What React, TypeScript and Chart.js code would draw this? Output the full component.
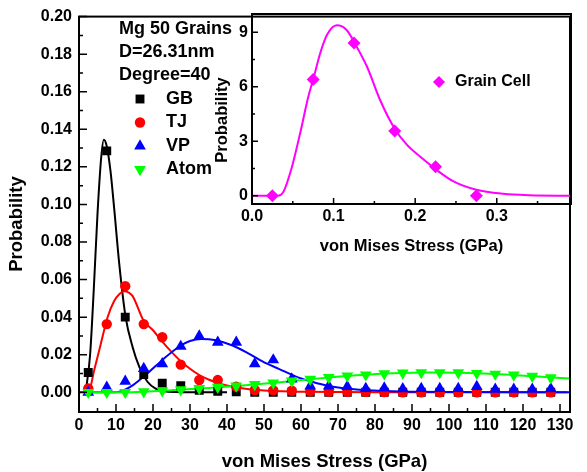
import React, { useEffect, useRef } from 'react';
import { Chart, registerables } from 'chart.js';
Chart.register(...registerables);

const FONT = '"Liberation Sans", Arial, sans-serif';

// ---- main chart data ----
const binX = [2.5, 7.5, 12.5, 17.5, 22.5, 27.5, 32.5, 37.5, 42.5, 47.5, 52.5, 57.5, 62.5, 67.5, 72.5, 77.5, 82.5, 87.5, 92.5, 97.5, 102.5, 107.5, 112.5, 117.5, 122.5, 127.5];
const gbY = [0.0105, 0.1285, 0.04, 0.0095, 0.0048, 0.0035, 0.001, 0.0005, 0.0003, 0, 0, 0, 0, 0, 0, 0, 0, 0, 0, 0, 0, 0, 0, 0, 0, 0];
const tjY = [0.002, 0.0363, 0.0565, 0.0363, 0.0293, 0.0147, 0.0065, 0.0065, 0.003, 0.0012, 0.001, 0.0008, 0.0005, 0.0004, 0.0003, 0.0002, 0.0001, 0, 0, 0, 0, 0, 0, 0, 0, 0];
const vpY = [0, 0.0026, 0.0058, 0.0126, 0.0152, 0.0244, 0.0299, 0.0266, 0.0266, 0.0152, 0.0172, 0.007, 0.0033, 0.0033, 0.003, 0.002, 0.0022, 0.0018, 0.002, 0.002, 0.002, 0.003, 0.0016, 0.0016, 0.0016, 0.0018];
const atomY = [0, 0, 0, 0.0003, 0.0008, 0.0014, 0.002, 0.0027, 0.0034, 0.0042, 0.005, 0.006, 0.007, 0.0079, 0.0087, 0.0093, 0.0099, 0.0103, 0.0105, 0.0105, 0.0104, 0.0101, 0.0097, 0.0092, 0.0086, 0.0078];

const gbFitX = [1.8, 3.0, 4.0, 5.0, 6.0, 6.7, 7.5, 8.5, 9.5, 10.9, 12.6, 14.5, 16.3, 18.5, 20.7, 23, 26, 30, 40];
const gbFitY = [0, 0.02, 0.055, 0.095, 0.125, 0.1345, 0.131, 0.118, 0.098, 0.068, 0.04, 0.024, 0.0135, 0.0056, 0.002, 0.0006, 0.0001, 0, 0];
const tjFitX = [2.0, 2.8, 4.1, 5.9, 7.7, 9.5, 11, 12.2, 13.5, 14.5, 17.5, 20, 22.5, 25, 27.5, 30, 32.5, 35, 37.5, 40, 45, 50, 55, 60, 70, 80, 132];
const tjFitY = [0, 0.001, 0.0117, 0.0258, 0.0398, 0.0486, 0.0525, 0.0538, 0.053, 0.0512, 0.038, 0.033, 0.027, 0.0215, 0.0165, 0.0125, 0.0092, 0.0068, 0.005, 0.0036, 0.0019, 0.001, 0.0005, 0.0003, 0.0001, 0, 0];
const vpFitX = [0, 10, 12, 14.6, 18.2, 22.7, 27.2, 30, 33, 37, 41.5, 46, 50.5, 54, 58.5, 63, 67.5, 72, 81, 90, 100, 132.7];
const vpFitY = [0, 0, 0.001, 0.0038, 0.0095, 0.0175, 0.0245, 0.0273, 0.0284, 0.0277, 0.0249, 0.0205, 0.0155, 0.0125, 0.0085, 0.0056, 0.0033, 0.002, 0.0008, 0.0003, 0.0001, 0];
const atomFitX = [0, 12, 17.5, 25, 35, 45, 55, 65, 75, 85, 95, 105, 115, 125, 132.7];
const atomFitY = [0, 0, 0.0003, 0.0011, 0.0023, 0.0038, 0.0055, 0.0074, 0.009, 0.0101, 0.0105, 0.0103, 0.0095, 0.0083, 0.0073];

const xTicks = [0, 10, 20, 30, 40, 50, 60, 70, 80, 90, 100, 110, 120, 130];
const xMinor = [5, 15, 25, 35, 45, 55, 65, 75, 85, 95, 105, 115, 125];
const yTicks = [0, 0.02, 0.04, 0.06, 0.08, 0.1, 0.12, 0.14, 0.16, 0.18, 0.2];
const yMinor = [0.01, 0.03, 0.05, 0.07, 0.09, 0.11, 0.13, 0.15, 0.17, 0.19];

const infoLines = ['Mg 50 Grains', 'D=26.31nm', 'Degree=40'];
const seriesNames = ['GB', 'TJ', 'VP', 'Atom'];

// ---- inset data ----
const cellX = [0.025, 0.075, 0.125, 0.175, 0.225, 0.275];
const cellY = [0, 6.4, 8.4, 3.57, 1.6, 0];
const cellFitX = [0, 0.031, 0.0387, 0.049, 0.059, 0.069, 0.075, 0.0836, 0.0918, 0.104, 0.116, 0.126, 0.141, 0.157, 0.1745, 0.19, 0.206, 0.226, 0.247, 0.275, 0.308, 0.34, 0.391];
const cellFitY = [0, 0, 0.24, 1.6, 3.44, 5.45, 6.4, 7.84, 8.84, 9.38, 9.12, 8.39, 7.1, 5.27, 3.72, 2.8, 2.16, 1.43, 0.79, 0.33, 0.11, 0.03, 0];
const insetXTicks = [0, 0.1, 0.2, 0.3];
const insetXMinor = [0.05, 0.15, 0.25, 0.35];
const insetYTicks = [0, 3, 6, 9];
const insetYMinor = [1.5, 4.5, 7.5];

const pts = (xs: number[], ys: number[]) => xs.map((x, i) => ({ x, y: ys[i] }));

const frameTicks = {
  id: 'frameTicks',
  afterDatasetsDraw(chart: any, _a: any, o: any) {
    const { ctx, chartArea: a, scales } = chart;
    ctx.save();
    ctx.strokeStyle = '#000';
    ctx.lineWidth = o.tickWidth;
    ctx.beginPath();
    const xs = scales.x, ys = scales.y;
    o.xMajor.forEach((v: number) => { const p = xs.getPixelForValue(v); ctx.moveTo(p, a.bottom); ctx.lineTo(p, a.bottom - o.major); });
    o.xMinor.forEach((v: number) => { const p = xs.getPixelForValue(v); ctx.moveTo(p, a.bottom); ctx.lineTo(p, a.bottom - o.minor); });
    o.yMajor.forEach((v: number) => { const p = ys.getPixelForValue(v); ctx.moveTo(a.left, p); ctx.lineTo(a.left + o.major, p); });
    o.yMinor.forEach((v: number) => { const p = ys.getPixelForValue(v); ctx.moveTo(a.left, p); ctx.lineTo(a.left + o.minor, p); });
    ctx.stroke();
    ctx.lineWidth = o.lineWidth;
    ctx.strokeRect(a.left, a.top, a.right - a.left, a.bottom - a.top);
    ctx.restore();
  },
};

function marker(ctx: CanvasRenderingContext2D, style: string, x: number, y: number, r: number, color: string) {
  ctx.save();
  ctx.fillStyle = color;
  ctx.beginPath();
  if (style === 'rect') {
    const s = r * Math.SQRT1_2;
    ctx.rect(x - s, y - s, 2 * s, 2 * s);
  } else if (style === 'circle') {
    ctx.arc(x, y, r, 0, Math.PI * 2);
  } else if (style === 'triangle') {
    ctx.moveTo(x, y - r);
    ctx.lineTo(x + r * 0.866, y + r * 0.5);
    ctx.lineTo(x - r * 0.866, y + r * 0.5);
  } else if (style === 'down') {
    ctx.moveTo(x, y + r);
    ctx.lineTo(x + r * 0.866, y - r * 0.5);
    ctx.lineTo(x - r * 0.866, y - r * 0.5);
  } else if (style === 'diamond') {
    ctx.moveTo(x, y - r);
    ctx.lineTo(x + r, y);
    ctx.lineTo(x, y + r);
    ctx.lineTo(x - r, y);
  }
  ctx.closePath();
  ctx.fill();
  ctx.restore();
}

const styles = ['rect', 'circle', 'triangle', 'down'];
const colors = ['#000000', '#ff0000', '#0000ff', '#00ff00'];
const radii = [6.3, 5.2, 6.8, 6.8];

const mainText = {
  id: 'mainText',
  afterDraw(chart: any) {
    const ctx = chart.ctx as CanvasRenderingContext2D;
    const a = chart.chartArea;
    ctx.save();
    ctx.fillStyle = '#000';
    ctx.textBaseline = 'middle';
    ctx.font = `bold 18px ${FONT}`;
    ctx.textAlign = 'left';
    infoLines.forEach((t, i) => ctx.fillText(t, 119, 29 + i * 23));
    seriesNames.forEach((t, i) => {
      const y = 99 + i * 23.5;
      marker(ctx, styles[i], 140, y, radii[i], colors[i]);
      ctx.fillStyle = '#000';
      ctx.fillText(t, 166, y);
    });
    ctx.font = `bold 18.5px ${FONT}`;
    ctx.textAlign = 'center';
    ctx.fillText('von Mises Stress (GPa)', (a.left + a.right) / 2, 462);
    ctx.translate(17, 224);
    ctx.rotate(-Math.PI / 2);
    ctx.fillText('Probability', 0, 0);
    ctx.restore();
  },
};

const insetText = {
  id: 'insetText',
  afterDraw(chart: any) {
    const ctx = chart.ctx as CanvasRenderingContext2D;
    const a = chart.chartArea;
    ctx.save();
    ctx.fillStyle = '#000';
    ctx.textBaseline = 'middle';
    marker(ctx, 'diamond', 239, 82, 6, '#ff00ff');
    ctx.font = `bold 16px ${FONT}`;
    ctx.textAlign = 'left';
    ctx.fillStyle = '#000';
    ctx.fillText('Grain Cell', 255, 82);
    ctx.font = `bold 16.5px ${FONT}`;
    ctx.textAlign = 'center';
    ctx.fillText('von Mises Stress (GPa)', (a.left + a.right) / 2, 246);
    ctx.translate(22, 120);
    ctx.rotate(-Math.PI / 2);
    ctx.fillText('Probability', 0, 0);
    ctx.restore();
  },
};

const tickFont = { family: FONT, size: 16, weight: 'bold' as const };

export default function App() {
  const mainRef = useRef<HTMLCanvasElement>(null);
  const insetRef = useRef<HTMLCanvasElement>(null);

  useEffect(() => {
    const pointSet = (label: string, ys: number[], i: number, order: number) => ({
      label,
      data: pts(binX, ys),
      showLine: false,
      pointStyle: i === 3 ? 'triangle' : styles[i],
      rotation: i === 3 ? 180 : 0,
      radius: radii[i],
      pointBackgroundColor: colors[i],
      pointBorderColor: colors[i],
      pointBorderWidth: 0,
      order,
    });
    const fitSet = (xs: number[], ys: number[], i: number, order: number) => ({
      label: seriesNames[i] + ' fit',
      data: pts(xs, ys),
      showLine: true,
      pointRadius: 0,
      borderColor: colors[i],
      borderWidth: 2,
      cubicInterpolationMode: 'monotone' as const,
      order,
    });

    const main = new Chart(mainRef.current!, {
      type: 'scatter',
      data: {
        datasets: [
          pointSet('Atom', atomY, 3, 0),
          pointSet('VP', vpY, 2, 1),
          pointSet('TJ', tjY, 1, 2),
          pointSet('GB', gbY, 0, 3),
          fitSet(atomFitX, atomFitY, 3, 4),
          fitSet(vpFitX, vpFitY, 2, 5),
          fitSet(tjFitX, tjFitY, 1, 6),
          fitSet(gbFitX, gbFitY, 0, 7),
        ] as any,
      },
      options: {
        responsive: false,
        animation: false,
        layout: { padding: { top: 13, right: 17, left: 0, bottom: 0 } },
        plugins: {
          legend: { display: false },
          tooltip: { enabled: false },
          frameTicks: { xMajor: xTicks, xMinor, yMajor: yTicks, yMinor, major: 8, minor: 4, tickWidth: 1.5, lineWidth: 2 },
        } as any,
        scales: {
          x: {
            type: 'linear', min: 0, max: 132.7,
            afterBuildTicks: (s: any) => { s.ticks = xTicks.map((v) => ({ value: v })); },
            afterFit: (s: any) => { s.height = 60; },
            ticks: { font: tickFont, color: '#000', padding: 4, maxRotation: 0, autoSkip: false },
            grid: { display: false, drawTicks: false },
            border: { display: false },
          },
          y: {
            type: 'linear', min: -0.0105, max: 0.2,
            afterBuildTicks: (s: any) => { s.ticks = yTicks.map((v) => ({ value: v })); },
            afterFit: (s: any) => { s.width = 79; },
            ticks: { font: tickFont, color: '#000', padding: 7, callback: (v: any) => Number(v).toFixed(2) },
            grid: { display: false, drawTicks: false },
            border: { display: false },
          },
        },
      },
      plugins: [frameTicks, mainText],
    });

    const inset = new Chart(insetRef.current!, {
      type: 'scatter',
      data: {
        datasets: [
          {
            label: 'Grain Cell',
            data: pts(cellX, cellY),
            showLine: false,
            pointStyle: 'rectRot',
            radius: 6.5,
            pointBackgroundColor: '#ff00ff',
            pointBorderColor: '#ff00ff',
            pointBorderWidth: 0,
            order: 0,
          },
          {
            label: 'Grain Cell fit',
            data: pts(cellFitX, cellFitY),
            showLine: true,
            pointRadius: 0,
            borderColor: '#ff00ff',
            borderWidth: 2,
            cubicInterpolationMode: 'monotone',
            order: 1,
          },
        ] as any,
      },
      options: {
        responsive: false,
        animation: false,
        layout: { padding: { top: 14, right: 16, left: 0, bottom: 0 } },
        plugins: {
          legend: { display: false },
          tooltip: { enabled: false },
          frameTicks: { xMajor: insetXTicks, xMinor: insetXMinor, yMajor: insetYTicks, yMinor: insetYMinor, major: 6, minor: 3, tickWidth: 1.5, lineWidth: 2 },
        } as any,
        scales: {
          x: {
            type: 'linear', min: 0, max: 0.391,
            afterBuildTicks: (s: any) => { s.ticks = insetXTicks.map((v) => ({ value: v })); },
            afterFit: (s: any) => { s.height = 56; },
            ticks: { font: tickFont, color: '#000', padding: 3, maxRotation: 0, autoSkip: false, callback: (v: any) => Number(v).toFixed(1) },
            grid: { display: false, drawTicks: false },
            border: { display: false },
          },
          y: {
            type: 'linear', min: -0.45, max: 10,
            afterBuildTicks: (s: any) => { s.ticks = insetYTicks.map((v) => ({ value: v })); },
            afterFit: (s: any) => { s.width = 52; },
            ticks: { font: tickFont, color: '#000', padding: 4 },
            grid: { display: false, drawTicks: false },
            border: { display: false },
          },
        },
      },
      plugins: [frameTicks, insetText],
    });

    return () => { main.destroy(); inset.destroy(); };
  }, []);

  return (
    <div style={{ position: 'absolute', left: 0, top: 0, width: 587, height: 472, background: '#fff' }}>
      <canvas ref={mainRef} width={587} height={472} style={{ position: 'absolute', left: 0, top: 0 }} />
      <canvas ref={insetRef} width={387} height={260} style={{ position: 'absolute', left: 200, top: 0 }} />
    </div>
  );
}
